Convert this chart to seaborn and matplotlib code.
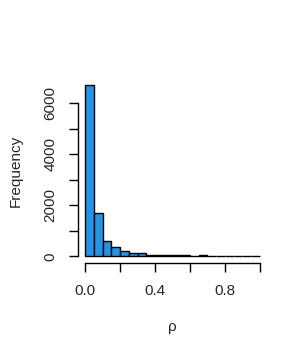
import numpy as np
import matplotlib
matplotlib.use("Agg")
import matplotlib.pyplot as plt
import seaborn as sns

# histogram bins (width 0.05) and counts
bin_edges = [round(i * 0.05, 2) for i in range(21)]
counts = [6700, 1720, 590, 390, 200, 130, 130, 45, 45, 45, 45, 45,
          0, 45, 0, 0, 0, 0, 0, 0]
x_ticks = [0.0, 0.2, 0.4, 0.6, 0.8, 1.0]
x_labels = ["0.0", "", "0.4", "", "0.8", ""]
y_ticks = [0, 1000, 2000, 3000, 4000, 5000, 6000]
y_labels = ["0", "", "2000", "", "4000", "", "6000"]

sns.set_style("white")
plt.rcParams["font.family"] = ["Liberation Sans", "DejaVu Sans"]

fig = plt.figure(figsize=(3.07, 3.61), dpi=100)
ax = fig.add_axes([0.255, 0.2706, 0.6137, 0.512])

mids = [(a + b) / 2 for a, b in zip(bin_edges[:-1], bin_edges[1:])]
sns.histplot(x=mids, weights=counts, bins=bin_edges, ax=ax,
             color="#2196E8", alpha=1, edgecolor="black", linewidth=1)

ymax = max(counts)
ax.set_xlim(-0.04, 1.04)
ax.set_ylim(-0.04 * ymax, 1.04 * ymax)

for s in ["top", "right"]:
    ax.spines[s].set_visible(False)
ax.spines["left"].set_bounds(0, 6000)
ax.spines["bottom"].set_bounds(0, 1.0)
for s in ["left", "bottom"]:
    ax.spines[s].set_color("black")
    ax.spines[s].set_linewidth(1)

ax.set_xticks(x_ticks)
ax.set_xticklabels(x_labels)
ax.set_yticks(y_ticks)
ax.set_yticklabels(y_labels, rotation=90, va="center")
ax.tick_params(axis="both", direction="out", length=6.8, width=1,
               color="black", labelsize=11, bottom=True, left=True)
ax.tick_params(axis="x", pad=8)
ax.tick_params(axis="y", pad=8)

ax.set_xlabel("ρ", fontsize=11, labelpad=16)
ax.set_ylabel("Frequency", fontsize=11, labelpad=15)

fig.savefig("out.png", dpi=100)
